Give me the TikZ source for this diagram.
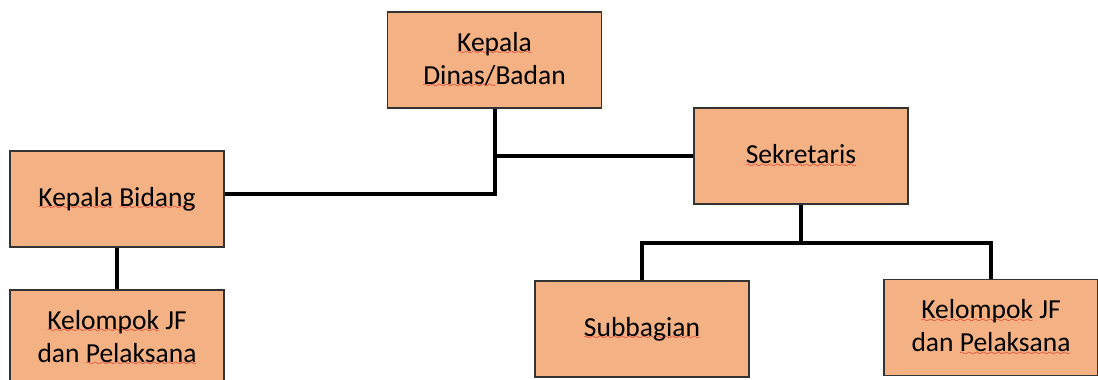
\documentclass[tikz,border=0pt]{standalone}
\usepackage{fontspec}
\setmainfont{Carlito}

% 方框填充色
\definecolor{kotak}{HTML}{F4B183}
% 红色波浪线(拼写检查的下划线), 用 lasy6 的波浪字符平铺
\font\gelombang=lasy6 scaled 1400
\newsavebox\katabox
\newcommand{\salah}[1]{\sbox\katabox{#1}%
    \rlap{\lower3.5pt\hbox to \wd\katabox{\color{red!85!black}\xleaders\hbox{\gelombang\char58}\hfil}}%
    \usebox\katabox}

\begin{document}
\begin{tikzpicture}[x=1pt, y=-1pt,
    jabatan/.style={draw=black!80, line width=1.2pt, fill=kotak,
        minimum width=214pt, minimum height=96pt, inner sep=0pt,
        align=center, font=\fontsize{27.5}{33}\selectfont},
    garis/.style={line width=4pt}]
    % 定义参数
    % x=1pt, y=-1pt: 1 个单位 = 1 像素, y 向下
    % 画布: 1098 x 380, 左下角的方框被截掉一部分
    \useasboundingbox (0,0) rectangle (1098,380);
    \clip (0,0) rectangle (1098,380);

    \node[jabatan] (dinas)   at (494.5,60)  {\salah{Kepala}\\\salah{Dinas/}Badan};
    \node[jabatan] (sekr)    at (801,156)   {\salah{Sekretaris}};
    \node[jabatan] (bidang)  at (117,199)   {\salah{Kepala} \salah{Bidang}};
    \node[jabatan] (jfkiri)  at (117,338)   {\salah{Kelompok} JF\\dan \salah{Pelaksana}};
    \node[jabatan] (subbag)  at (642,329)   {\salah{Subbagian}};
    \node[jabatan] (jfkanan) at (991,327.5) {\salah{Kelompok} JF\\dan \salah{Pelaksana}};

    % 连接线: 粗黑线, 直角折线
    \draw[garis] (dinas.south) |- ([yshift=5pt]bidang.east);
    \draw[garis] (dinas.south |- sekr.west) -- (sekr.west);
    \draw[garis] (bidang.south) -- (jfkiri.north);
    \draw[garis] (sekr.south) -- ++(0,38) coordinate (cabang);
    \draw[garis] (subbag.north) |- (cabang) -| (jfkanan.north);
\end{tikzpicture}
\end{document}
